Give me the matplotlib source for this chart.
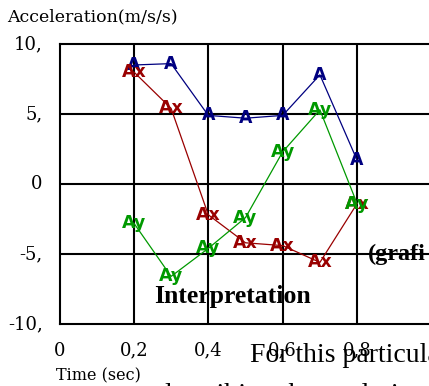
import matplotlib
matplotlib.use('Agg')
import matplotlib.pyplot as plt

# time samples (s) and acceleration components (m/s/s)
time_a = [0.2, 0.3, 0.4, 0.5, 0.6, 0.7, 0.8]
accel_a = [8.5, 8.6, 4.9, 4.7, 4.9, 7.8, 1.7]

time_ax = [0.2, 0.3, 0.4, 0.5, 0.6, 0.7, 0.8]
accel_ax = [8.0, 5.4, -2.2, -4.2, -4.4, -5.6, -1.4]

time_ay = [0.2, 0.3, 0.4, 0.5, 0.6, 0.7, 0.8]
accel_ay = [-2.8, -6.6, -4.6, -2.4, 2.3, 5.3, -1.4]

x_ticks = [0, 0.2, 0.4, 0.6, 0.8]
x_tick_labels = ['0', '0,2', '0,4', '0,6', '0,8']
y_ticks = [10, 5, 0, -5, -10]
y_tick_labels = ['10,', '5,', '0', '-5,', '-10,']

series = [
    (time_a, accel_a, 'A', '#000080'),
    (time_ax, accel_ax, 'Ax', '#990000'),
    (time_ay, accel_ay, 'Ay', '#009900'),
]

W, H = 429, 386
fig = plt.figure(figsize=(W / 100, H / 100), dpi=100)
fig.patch.set_facecolor('white')

# plot area runs past the right edge of the figure
ax = fig.add_axes([59.5 / W, (H - 324) / H, 372 / W, 280 / H])
ax.set_xlim(0, 1)
ax.set_ylim(-10, 10)

for x in [0.2, 0.4, 0.6, 0.8]:
    ax.axvline(x, color='black', lw=1.5, zorder=1)
for y in [5, 0, -5]:
    ax.axhline(y, color='black', lw=1.5, zorder=1)

for t, v, lab, col in series:
    ax.plot(t, v, color=col, lw=0.9, zorder=2)
    for xi, yi in zip(t, v):
        ax.text(xi, yi, lab, color=col, fontsize=12.5, fontweight='bold',
                family='DejaVu Sans', ha='center', va='center', zorder=3)

for side in ['left', 'bottom', 'top']:
    ax.spines[side].set_linewidth(1.5)
ax.spines['right'].set_visible(False)
ax.set_xticks([])
ax.set_yticks([])

serif = 'DejaVu Serif'
for y, lab in zip(y_ticks, y_tick_labels):
    ax.text(-0.045, y, lab, transform=ax.get_yaxis_transform(), ha='right', va='center',
            fontsize=13, family=serif)

for x, lab in zip(x_ticks, x_tick_labels):
    ax.text(x, -0.095, lab, transform=ax.get_xaxis_transform(), ha='center', va='center',
            fontsize=13, family=serif)

fig.text(7 / W, 1 - 17 / H, 'Acceleration(m/s/s)', ha='left', va='center',
         fontsize=12.5, family=serif)
fig.text(56 / W, 1 - 376 / H, 'Time (sec)', ha='left', va='center',
         fontsize=11.5, family=serif)

# surrounding document text overlapping the chart
times = 'Liberation Serif'
fig.text(368 / W, 1 - 254 / H, '(grafi', ha='left', va='center',
         fontsize=17.5, fontweight='bold', family=times)
fig.text(154 / W, 1 - 297 / H, 'Interpretation', ha='left', va='center',
         fontsize=18.5, fontweight='bold', family=times)
fig.text(250 / W, 1 - 356 / H, 'For this particular', ha='left', va='center',
         fontsize=20, family=times)
fig.text(158 / W, 1 - 395 / H, 'describing the evolution of', ha='left', va='center',
         fontsize=20, family=times)

fig.savefig('out.png', dpi=100, facecolor='white')
